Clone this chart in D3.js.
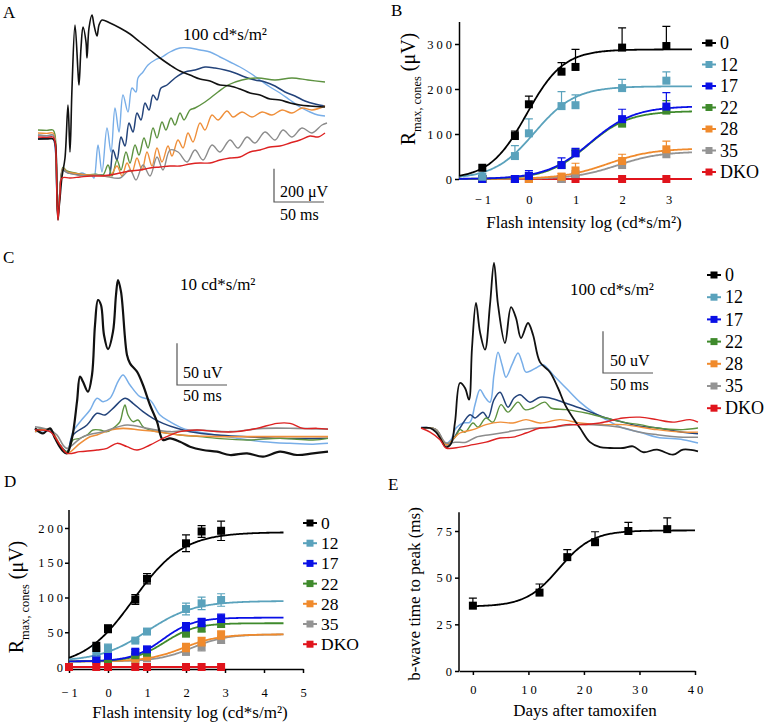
<!DOCTYPE html>
<html><head><meta charset="utf-8">
<script src="https://cdn.jsdelivr.net/npm/d3@7"></script>
<style>
body{margin:0;background:#fff}
svg{display:block}
text{font-family:"Liberation Serif","Times New Roman",serif;fill:#000}
</style>
</head><body>
<svg id="c" width="774" height="724"></svg>
<script>
// ---------------- DATA ----------------
const groupNames = ["0","12","17","22","28","35","DKO"];
const groupColors = ["#000000","#5aa2bc","#0a10e6","#3f8a2c","#f08a2c","#949494","#e0141c"];
const traceColors = ["#78aee8","#23437a","#5d9240","#ef8f3a","#8c8c8c","#111111","#dd2222"]; // 12,17,22,28,35,0,DKO

// Panel A traces (t in ms, V in µV), 100 cd*s/m2
const aT12 = [[-19,0],[-10,-6],[-4,0],[-2,-60],[0,-380],[1,-490],[2,-420],[4,-260],[6,-205],[10,-222],[15,-230],[20,-235],[25,-228],[30,-240],[35,-245],[37,-258],[41,-60],[45,-222],[50,42],[54,-102],[58,162],[62,18],[66,240],[71,138],[75,282],[79,258],[81,342],[86,378],[91,420],[98,450],[105,468],[113,498],[123,522],[133,522],[143,510],[153,498],[163,468],[173,438],[183,408],[193,372],[203,330],[213,288],[223,252],[233,210],[243,168],[253,138],[261,120],[268,114]];
const aT17 = [[-19,-24],[-10,-20],[-4,-24],[-2,-60],[0,-380],[1,-490],[2,-420],[4,-260],[6,-210],[10,-225],[20,-235],[30,-242],[40,-238],[48,-244],[52,-246],[56,-90],[60,-150],[64,-12],[68,-66],[72,72],[76,18],[80,132],[84,90],[88,192],[92,150],[96,240],[100,210],[104,282],[110,300],[118,342],[128,378],[138,390],[148,408],[158,402],[168,390],[178,372],[188,348],[198,330],[208,318],[218,294],[228,258],[238,234],[248,204],[258,186],[268,174]];
const aT22 = [[-19,30],[-10,28],[-4,30],[-2,0],[0,-370],[1,-480],[2,-420],[4,-250],[6,-195],[10,-215],[20,-230],[30,-238],[40,-236],[46,-240],[51,-180],[55,-246],[60,-150],[64,-210],[69,-102],[73,-168],[78,-60],[82,-120],[87,-18],[91,-78],[96,42],[100,-18],[105,78],[109,30],[114,102],[118,60],[123,132],[127,90],[133,150],[138,162],[148,198],[161,258],[171,300],[185,330],[201,342],[218,330],[235,342],[251,330],[268,318]];
const aT28 = [[-19,12],[-10,10],[-4,12],[-2,-20],[0,-375],[1,-485],[2,-420],[4,-255],[6,-200],[10,-222],[20,-232],[30,-240],[40,-240],[53,-246],[60,-186],[65,-246],[70,-168],[75,-222],[80,-138],[85,-210],[90,-102],[95,-186],[100,-78],[105,-162],[111,-66],[115,-126],[121,-30],[126,-78],[131,12],[136,-42],[143,72],[148,30],[155,120],[161,90],[170,144],[176,108],[185,138],[195,108],[205,138],[215,120],[225,150],[235,132],[245,162],[255,150],[268,174]];
const aT35 = [[-19,0],[-10,-4],[-4,0],[-2,-30],[0,-375],[1,-485],[2,-420],[4,-255],[6,-205],[10,-225],[20,-240],[30,-246],[40,-240],[50,-250],[63,-258],[73,-210],[79,-270],[86,-180],[93,-246],[100,-132],[106,-210],[113,-90],[121,-102],[130,-162],[138,-90],[146,-150],[155,-60],[163,-102],[173,-30],[181,-78],[190,-12],[198,-48],[208,18],[218,-30],[226,30],[235,-12],[245,42],[255,12],[265,60],[270,72]];
const aT0 = [[-19,-24],[-10,-24],[-4,-22],[-2,-40],[0,-380],[1,-510],[2,-440],[3,-380],[5,-250],[8,-138],[11,180],[13,-102],[15,282],[18,660],[21,378],[22,300],[24,522],[26,648],[29,558],[30,462],[32,642],[35,720],[37,660],[40,594],[42,660],[45,690],[53,672],[63,642],[73,606],[83,558],[93,510],[103,462],[113,420],[123,384],[133,360],[143,336],[153,324],[163,300],[173,294],[183,276],[193,252],[203,240],[213,216],[223,210],[233,192],[243,180],[253,174],[268,168]];
const aTDKO = [[-19,-12],[-10,-14],[-4,-12],[-2,-40],[0,-390],[1,-510],[2,-440],[3,-350],[5,-258],[13,-258],[23,-252],[33,-246],[43,-246],[53,-240],[63,-228],[73,-216],[83,-210],[93,-198],[103,-192],[113,-186],[123,-186],[133,-174],[143,-168],[153,-168],[163,-150],[173,-138],[183,-132],[193,-102],[203,-90],[213,-72],[223,-66],[233,-48],[243,-30],[253,-6],[261,-12],[268,12]];

// Panel C left traces, 10 cd*s/m2
const cLT12 = [[-15,-2],[0,-2],[10,-18],[17,-26],[23,-2],[33,14],[40,24],[47,38],[53,34],[60,38],[68,58],[73,66],[80,54],[90,40],[100,36],[110,18],[120,10],[133,2],[147,-2],[167,-6],[187,-10],[213,-14],[240,-16],[263,-17],[278,-16]];
const cLT17 = [[-15,0],[0,0],[10,-18],[17,-26],[23,-6],[37,6],[47,20],[55,18],[63,26],[75,38],[83,32],[93,22],[103,14],[113,8],[127,2],[140,-2],[167,-6],[197,-8],[230,-10],[278,-10]];
const cLT22 = [[-15,0],[0,0],[10,-19],[17,-26],[23,-12],[30,-10],[37,-6],[43,0],[50,0],[57,-2],[63,2],[70,10],[73,24],[75,30],[78,18],[83,10],[88,12],[93,4],[100,0],[107,-2],[130,-6],[150,-8],[167,-10],[197,-12],[230,-10],[263,-12],[278,-10]];
const cLT28 = [[-15,-2],[0,0],[10,-18],[17,-28],[30,-16],[40,-8],[47,-6],[60,0],[73,2],[90,0],[107,-2],[130,-6],[167,-8],[197,-8],[230,-8],[278,-8]];
const cLT35 = [[-15,4],[0,0],[7,-6],[13,-18],[17,-22],[33,-8],[53,-2],[77,6],[97,2],[120,-2],[147,0],[180,-2],[213,2],[247,2],[278,1]];
const cLT0 = [[-15,2],[-7,-4],[0,2],[5,-10],[12,-24],[17,-28],[22,-10],[27,34],[30,64],[33,58],[38,46],[42,66],[45,126],[48,156],[51,150],[54,114],[58,97],[63,118],[66,162],[68,180],[71,166],[77,90],[80,80],[87,70],[93,54],[100,30],[107,10],[113,-12],[120,-10],[130,-14],[140,-20],[153,-24],[167,-26],[180,-30],[197,-28],[213,-32],[230,-26],[247,-30],[263,-28],[278,-26]];
const cLTDKO = [[-15,0],[0,-2],[10,-18],[17,-28],[30,-26],[47,-24],[57,-22],[67,-16],[77,-20],[87,-24],[100,-18],[113,-10],[130,-2],[147,0],[167,-2],[187,-2],[207,2],[227,8],[240,8],[253,2],[267,2],[278,1]];

// Panel C right traces, 100 cd*s/m2
const cRT12 = [[-15,1],[0,-2],[5,-12],[10,-18],[15,-14],[20,0],[27,6],[34,7],[39,28],[44,46],[49,37],[54,31],[58,64],[62,91],[66,76],[70,61],[76,76],[82,90],[86,79],[90,67],[100,72],[107,76],[117,64],[130,48],[144,31],[157,19],[170,10],[187,0],[204,-5],[221,-11],[247,-14],[262,-18]];
const cRT17 = [[-15,0],[0,-2],[10,-20],[15,-17],[24,0],[34,16],[39,12],[47,19],[52,12],[58,34],[64,43],[72,25],[78,36],[84,40],[94,31],[104,37],[114,36],[127,31],[144,24],[157,18],[170,12],[187,7],[204,2],[221,0],[247,-5],[262,-7]];
const cRT22 = [[-15,0],[0,-2],[10,-20],[19,-11],[24,-2],[29,-5],[37,6],[42,1],[50,12],[57,7],[65,28],[72,19],[82,31],[89,22],[97,24],[109,31],[115,24],[130,22],[150,18],[170,12],[187,7],[204,4],[221,0],[247,-2],[262,0]];
const cRT28 = [[-15,0],[0,-2],[10,-20],[19,-11],[24,-6],[37,-2],[50,4],[64,7],[77,6],[90,10],[104,6],[124,10],[144,6],[164,4],[187,4],[221,-2],[247,-5],[262,-5]];
const cRT35 = [[-15,0],[0,-2],[10,-18],[19,-17],[30,-17],[40,-11],[54,-8],[70,-5],[84,-2],[100,0],[117,1],[137,4],[157,4],[184,1],[204,-5],[221,-8],[247,-11],[262,-11]];
const cRT0 = [[-15,0],[-6,0],[0,-5],[5,-14],[10,-23],[15,-19],[19,7],[24,54],[29,48],[33,34],[36,96],[40,150],[44,115],[49,94],[54,148],[58,198],[62,148],[69,102],[75,145],[80,132],[85,108],[92,126],[97,112],[104,79],[114,67],[122,48],[129,28],[137,12],[144,0],[154,-17],[164,-23],[174,-24],[187,-24],[197,-22],[207,-29],[221,-26],[237,-32],[247,-26],[262,-28]];
const cRTDKO = [[-15,0],[-6,-5],[4,-14],[10,-24],[24,-23],[37,-20],[50,-17],[64,-12],[77,-11],[90,-6],[104,0],[117,1],[130,4],[144,4],[164,6],[187,12],[204,13],[221,10],[237,7],[254,10],[262,7]];

// Panel B: intensity-response, Rmax cones (µV)
const bIntensity = [-1,-0.3,0,0.7,1,2,2.95];
const bMean = [
  [25,95.5,166,238.5,249,292,295.5],
  [5,51,101.5,162,164,202,218.5],
  [0,0,7,31,57,133,161],
  [0,0,6.7,31,58.5,123,152],
  [0,0,0,5,19,40,66],
  [0,0,0,0,11,31,55],
  [0,0,0,0,0,0,0]];
const bErr = [
  [0,11,18,20,39,44,43.5],
  [0,23,32,32,23,19.5,19.5],
  [0,0,11.5,16,11,22,31],
  [0,0,3,5,5,8,22],
  [0,0,0,7.6,16,15,18],
  [0,0,0,0,3,3,4],
  [0,0,0,0,0,0,0]];
// Hill fit parameters [top, logEC50, slope]
const bFit = [[288,-0.05,1.1],[206,0.12,1.0],[162,1.32,0.92],[151,1.27,0.99],[68,1.7,0.9],[61,1.9,0.95],[0,0,1]];
const bTicksX = [-1,0,1,2,3];
const bTicksY = [0,100,200,300];

// Panel D
const dIntensity = [-1,-0.3,0,0.7,1,2,2.4,2.9];
const dMean = [
  [null,28.8,55,97,127,178,195,196],
  [null,23,27,38,51,83.5,91.6,96.4],
  [null,11.5,16,22,25.4,58,64,70],
  [null,9,11,17,20.6,48.4,55.6,62],
  [null,null,null,12,15,28,36.5,46],
  [null,null,null,10,12.5,22,29,39],
  [0,0,0,0,0,0,0,0]];
const dErr = [
  [0,6.5,5.5,7,7.5,12,8.5,14],
  [0,7,6,2,3,8.5,9,9],
  [0,3,3,3,4,6,6,6],
  [0,2,2,2,3,5,5,5],
  [0,0,0,2,3,6,6,6],
  [0,0,0,2,2,5,6,5],
  [0,0,0,0,0,0,0,0]];
// Hill fit [bottom, top, logEC50, slope]
const dFit = [[0,194,0.652,0.686],[8,95,1.0,0.72],[8,71,1.4,1.1],[8,63,1.45,1.1],[8,47,1.93,0.95],[8,47,2.15,1.0]];
const dTicksX = [-1,0,1,2,3,4,5];
const dTicksY = [0,50,100,150,200];

// Panel E
const eDays = [0,12,17,22,28,35];
const eMean = [35,42,61,69,75,76];
const eErr = [4,4.6,4,5.6,4.6,6];
const eFit = [34.5,75.3,15.5,3.0]; // bottom, top, midpoint, width
const eTicksX = [0,10,20,30,40];
const eTicksY = [0,25,50,75];

// ---------------- DRAW ----------------
const svg = d3.select("#c");
const tickFont = 12.5, tickLS = 3;

function label(x, y, txt, size, anchor) {
  return svg.append("text").attr("x", x).attr("y", y).attr("text-anchor", anchor || "start")
    .style("font-size", size + "px").text(txt);
}
// panel letters
label(3, 18, "A", 17); label(391, 16, "B", 17); label(3, 263, "C", 17);
label(4, 487, "D", 17); label(388, 490, "E", 17);

function drawTraces(list, xs, ys, widths) {
  const ln = d3.line().x(d => xs(d[0])).y(d => ys(d[1])).curve(d3.curveCatmullRom.alpha(0.5));
  list.forEach((tr, i) => {
    svg.append("path").attr("d", ln(tr)).attr("fill", "none")
      .attr("stroke", traceColors[i]).attr("stroke-width", widths[i]).attr("stroke-linejoin", "round");
  });
}
function scaleBar(x0, y0, xs, ys, tms, tuv, vText, tText, vTxtY, tTxtY, txtX) {
  const w = xs(tms) - xs(0), h = ys(0) - ys(tuv);
  svg.append("path").attr("d", `M${x0},${y0 - h}V${y0}H${x0 + w}`).attr("fill", "none")
    .attr("stroke", "#555").attr("stroke-width", 1.2);
  label(txtX, vTxtY, vText, 16);
  label(txtX, tTxtY, tText, 16);
}

// ---- Panel A
const xA = d3.scaleLinear().domain([0, 100]).range([57, 157]);
const yA = d3.scaleLinear().domain([0, 600]).range([135, 35]);
drawTraces([aT12, aT17, aT22, aT28, aT35, aT0, aTDKO], xA, yA, [1.4,1.5,1.4,1.4,1.4,1.6,1.4]);
label(183, 40, "100 cd*s/m²", 17);
scaleBar(274, 202, xA, yA, 50, 200, "200 μV", "50 ms", 197, 220, 280);

// ---- Panel C left
const xCL = d3.scaleLinear().domain([0, 100]).range([50, 150]);
const yCL = d3.scaleLinear().domain([0, 60]).range([430, 380]);
drawTraces([cLT12, cLT17, cLT22, cLT28, cLT35, cLT0, cLTDKO], xCL, yCL, [1.5,1.5,1.4,1.6,1.6,2.2,1.4]);
label(180, 290, "10 cd*s/m²", 17);
scaleBar(177, 385, xCL, yCL, 50, 50, "50 uV", "50 ms", 378, 401, 183);

// ---- Panel C right
const xCR = d3.scaleLinear().domain([0, 100]).range([436, 536]);
const yCR = d3.scaleLinear().domain([0, 60]).range([428, 378]);
drawTraces([cRT12, cRT17, cRT22, cRT28, cRT35, cRT0, cRTDKO], xCR, yCR, [1.5,1.5,1.4,1.4,1.5,1.8,1.4]);
label(570, 295, "100 cd*s/m²", 17);
scaleBar(603, 373, xCR, yCR, 50, 50, "50 uV", "50 ms", 366, 390, 610);

// legend helper
function legend(x, y0, dy, size) {
  groupNames.forEach((n, i) => {
    const y = y0 + i * dy;
    svg.append("line").attr("x1", x).attr("x2", x + 14).attr("y1", y).attr("y2", y)
      .attr("stroke", groupColors[i]).attr("stroke-width", 2);
    svg.append("rect").attr("x", x + 3.5).attr("y", y - 3.5).attr("width", 7).attr("height", 7)
      .attr("fill", groupColors[i]);
    label(x + 18, y + size * 0.34, n, size);
  });
}
legend(702, 43, 21.5, 18);
legend(707, 275, 22.2, 18);
legend(303, 523, 20.2, 17.5);

function styleTicks(g, anchor) {
  g.selectAll("text").style("font-family", "Liberation Serif").style("font-size", tickFont + "px")
    .style("letter-spacing", tickLS + "px").attr("fill", "#000");
  g.selectAll("line,path").attr("stroke", "#000").attr("stroke-width", 1.5);
}
function rmaxLabel(x, y, fs) {
  const t = svg.append("text").attr("transform", `translate(${x},${y}) rotate(-90)`)
    .attr("text-anchor", "middle").style("font-size", fs + "px");
  t.append("tspan").text("R");
  t.append("tspan").attr("dy", fs * 0.28).style("font-size", (fs * 0.62) + "px").text("max, cones");
  t.append("tspan").attr("dy", -fs * 0.28).text(" (μV)");
}
function hill(p, x) { return p[0] / (1 + Math.pow(10, (p[1] - x) * p[2])); }
function hill4(p, x) { return p[0] + (p[1] - p[0]) / (1 + Math.pow(10, (p[2] - x) * p[3])); }

// ---- Panel B
const xB = d3.scaleLinear().domain([-1.5, 3.5]).range([459, 692]);
const yB = d3.scaleLinear().domain([0, 350]).range([179, 21.5]);
{
  const gy = svg.append("g").attr("transform", "translate(459,0)")
    .call(d3.axisLeft(yB).tickValues(bTicksY).tickSize(4).tickPadding(0).tickSizeOuter(0));
  styleTicks(gy);
  const gx = svg.append("g").attr("transform", "translate(0,179)")
    .call(d3.axisBottom(xB).tickValues(bTicksX).tickSize(0).tickPadding(16).tickFormat(d3.format("d")));
  styleTicks(gx); gx.select(".domain").remove();
  gx.selectAll("text").attr("dx", tickLS / 2);
  const xsF = d3.range(-1.5, 3.5001, 0.025);
  const ln = d3.line().x(d => xB(d[0])).y(d => yB(d[1]));
  const order = [6, 5, 4, 3, 2, 1, 0];
  order.forEach(i => {
    svg.append("path").attr("d", ln(xsF.map(x => [x, hill(bFit[i], x)]))).attr("fill", "none")
      .attr("stroke", groupColors[i]).attr("stroke-width", 1.8);
  });
  order.forEach(i => {
    const g = svg.append("g");
    bIntensity.forEach((x, j) => {
      const m = bMean[i][j], e = bErr[i][j];
      if (e > 0) {
        g.append("path").attr("d", `M${xB(x)},${yB(m)}V${yB(m + e)}M${xB(x) - 4},${yB(m + e)}H${xB(x) + 4}`)
          .attr("stroke", groupColors[i]).attr("stroke-width", 1.2).attr("fill", "none");
      }
      g.append("rect").attr("x", xB(x) - 4).attr("y", yB(m) - 4).attr("width", 8).attr("height", 8)
        .attr("fill", groupColors[i]);
    });
  });
  rmaxLabel(415, 89, 20);
  label(584, 228, "Flash intensity log (cd*s/m²)", 17, "middle");
}

// ---- Panel D
const xD = d3.scaleLinear().domain([-1, 5]).range([69, 303]);
const yD = d3.scaleLinear().domain([0, 200]).range([667, 528]);
{
  const gy = svg.append("g").attr("transform", "translate(69,0)")
    .call(d3.axisLeft(yD).tickValues(dTicksY).tickSize(4).tickPadding(-1).tickSizeOuter(0));
  styleTicks(gy);
  gy.select(".domain").attr("d", `M0,${yD(0) + 2}V${yD(226)}`);
  const gx = svg.append("g").attr("transform", `translate(0,${yD(0) + 2})`)
    .call(d3.axisBottom(xD).tickValues(dTicksX).tickSize(4).tickPadding(15).tickSizeOuter(0).tickFormat(d3.format("d")));
  styleTicks(gx);
  gx.selectAll("text").attr("dx", tickLS / 2);
  const xsF = d3.range(-1, 4.5001, 0.025);
  const ln = d3.line().x(d => xD(d[0])).y(d => yD(d[1]));
  [5, 4, 3, 2, 1, 0].forEach(i => {
    svg.append("path").attr("d", ln(xsF.map(x => [x, hill4(dFit[i], x)]))).attr("fill", "none")
      .attr("stroke", groupColors[i]).attr("stroke-width", 1.8);
  });
  svg.append("path").attr("d", ln([[dIntensity[0], 0], [dIntensity[dIntensity.length - 1], 0]]))
    .attr("stroke", groupColors[6]).attr("stroke-width", 2).attr("fill", "none");
  [5, 4, 3, 2, 1, 0, 6].forEach(i => {
    const g = svg.append("g");
    dIntensity.forEach((x, j) => {
      const m = dMean[i][j], e = dErr[i][j];
      if (m === null) return;
      if (e > 0) {
        g.append("path").attr("d", `M${xD(x)},${yD(m - e)}V${yD(m + e)}M${xD(x) - 4},${yD(m + e)}H${xD(x) + 4}M${xD(x) - 4},${yD(m - e)}H${xD(x) + 4}`)
          .attr("stroke", groupColors[i]).attr("stroke-width", 1.2).attr("fill", "none");
      }
      g.append("rect").attr("x", xD(x) - 4).attr("y", yD(m) - 4).attr("width", 8).attr("height", 8)
        .attr("fill", groupColors[i]);
    });
  });
  rmaxLabel(23, 597, 20);
  label(190, 718, "Flash intensity log (cd*s/m²)", 17, "middle");
}

// ---- Panel E
const xE = d3.scaleLinear().domain([-2.5, 40]).range([459, 695]);
const yE = d3.scaleLinear().domain([0, 75]).range([671, 531]);
{
  const gy = svg.append("g").attr("transform", "translate(459,0)")
    .call(d3.axisLeft(yE).tickValues(eTicksY).tickSize(4).tickPadding(0).tickSizeOuter(0));
  styleTicks(gy);
  gy.select(".domain").attr("d", `M0,${yE(0)}V${yE(85)}`);
  const gx = svg.append("g").attr("transform", `translate(0,${yE(0)})`)
    .call(d3.axisBottom(xE).tickValues(eTicksX).tickSize(4).tickPadding(10).tickSizeOuter(0));
  styleTicks(gx);
  gx.selectAll("text").attr("dx", tickLS / 2);
  const xsF = d3.range(0, 40.001, 0.2);
  const ln = d3.line().x(d => xE(d[0])).y(d => yE(d[1]));
  svg.append("path").attr("d", ln(xsF.map(x => [x, eFit[0] + (eFit[1] - eFit[0]) / (1 + Math.exp((eFit[2] - x) / eFit[3]))])))
    .attr("fill", "none").attr("stroke", "#000").attr("stroke-width", 1.8);
  eDays.forEach((x, j) => {
    const m = eMean[j], e = eErr[j];
    svg.append("path").attr("d", `M${xE(x)},${yE(m)}V${yE(m + e)}M${xE(x) - 4},${yE(m + e)}H${xE(x) + 4}`)
      .attr("stroke", "#000").attr("stroke-width", 1.2).attr("fill", "none");
    svg.append("rect").attr("x", xE(x) - 4).attr("y", yE(m) - 4).attr("width", 8).attr("height", 8).attr("fill", "#000");
  });
  svg.append("text").attr("transform", "translate(420,594) rotate(-90)").attr("text-anchor", "middle")
    .style("font-size", "17px").text("b-wave time to peak (ms)");
  label(585, 716, "Days after tamoxifen", 17, "middle");
}
</script>
</body></html>
